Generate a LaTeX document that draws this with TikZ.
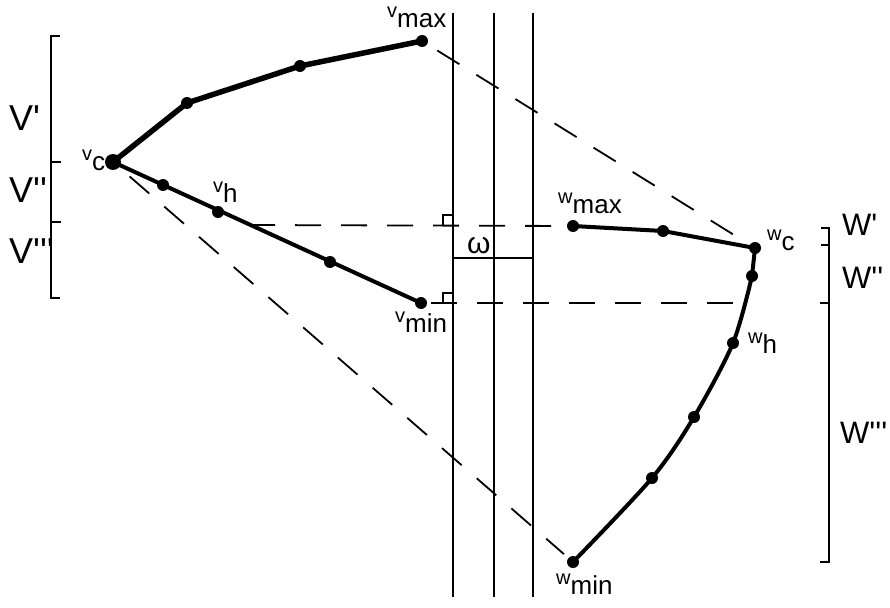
\documentclass[tikz,border=0pt]{standalone}
\usepackage{fontspec}
\setmainfont{Liberation Sans}
\usetikzlibrary{positioning}

\newcommand{\ptlab}[2]{{\fontsize{20}{20}\selectfont #1}\raisebox{-10pt}{\fontsize{26}{26}\selectfont #2}}
\newcommand{\qs}{\textquotesingle}

\begin{document}
\begin{tikzpicture}[x=1pt, y=-1pt,
  lbl/.style={anchor=base west, inner sep=0pt},
  seglbl/.style={anchor=base west, inner sep=0pt, font=\fontsize{36}{36}\selectfont},
  wlbl/.style={anchor=base west, inner sep=0pt, font=\fontsize{31}{31}\selectfont},
  branch/.style={line width=4.5pt, line cap=round, line join=round},
  thin/.style={line width=1.8pt},
  dashln/.style={line width=1.8pt, dash pattern=on 26pt off 20pt},
  dot/.style={radius=6}
]
  \useasboundingbox (0,0) rectangle (890,607);

  % points of the V side
  \coordinate (vc)   at (113,162);
  \coordinate (va1)  at (187,103);
  \coordinate (va2)  at (300,66);
  \coordinate (vmax) at (422,41);
  \coordinate (vb1)  at (163,185);
  \coordinate (vh)   at (218,212);
  \coordinate (vb2)  at (330,262);
  \coordinate (vmin) at (421,303);
  \coordinate (vcut) at (249,225);

  % points of the W side
  \coordinate (wmax) at (573,226);
  \coordinate (wa1)  at (663,231);
  \coordinate (wc)   at (755,248);
  \coordinate (wb1)  at (752,276);
  \coordinate (wh)   at (733,343);
  \coordinate (wb2)  at (694,417);
  \coordinate (wb3)  at (652,478);
  \coordinate (wmin) at (573,562);
  \coordinate (wcut) at (745,303);

  % the three vertical lines
  \foreach \x in {453,494,533}
    \draw[thin] (\x,13) -- (\x,597);
  \draw[thin] (453,258) -- (533,258);
  \node[lbl, font=\fontsize{30}{30}\selectfont] (omega) at (467,253) {ω};

  % right angle marks
  \draw[thin] (443,225) -- (443,215) -- (453,215);
  \draw[thin] (443,303) -- (443,293) -- (453,293);

  % dashed construction lines
  \draw[dashln] (vcut) -- (wmax);
  \draw[dashln, shorten <=10pt] (vmin) -- (wcut);
  \draw[dashln, shorten <=18pt, shorten >=18pt] (vmax) -- (wc);
  \draw[dashln, shorten <=22pt, shorten >=12pt] (vc) -- (wmin);

  % V profile
  \draw[branch, line width=5.5pt] (vc) -- (va1) -- (va2) -- (vmax);
  \draw[branch, line width=4pt] (vc) -- (vmin);
  \fill (vc) circle[radius=8];
  \foreach \p in {va1,va2,vmax,vb1,vh,vb2,vmin}
    \fill (\p) circle[dot];

  % W profile
  \draw[branch, line width=4pt] (wmax) -- (wa1) -- (wc) -- (wb1);
  \draw[branch, line width=4pt] plot[smooth, tension=0.5] coordinates {(wb1) (wh) (wb2) (wb3) (wmin)};
  \foreach \p in {wmax,wa1,wc,wb1,wh,wb2,wb3,wmin}
    \fill (\p) circle[dot];

  % point labels
  \node[lbl] (lvmax) at (387,18)  {\ptlab{v}{max}};
  \node[lbl] (lvmin) at (395,322) {\ptlab{v}{min}};
  \node[lbl] (lvc)   at (82,160)  {\ptlab{v}{c}};
  \node[lbl] (lvh)   at (213,192) {\ptlab{v}{h}};
  \node[lbl] (lwmax) at (558,203) {\ptlab{w}{max}};
  \node[lbl] (lwc)   at (767,240) {\ptlab{w}{c}};
  \node[lbl] (lwh)   at (748,343) {\ptlab{w}{h}};
  \node[lbl] (lwmin) at (556,584) {\ptlab{w}{min}};

  % left bracket
  \draw[thin] (60,36) -- (51,36) -- (51,298) -- (60,298);
  \draw[thin] (51,162) -- (61,162);
  \draw[thin] (51,222) -- (61,222);
  \node[seglbl] (v1) at (9,130) {V\qs};
  \node[seglbl] (v2) at (9,202) {V\qs\qs};
  \node[seglbl] (v3) at (9,263) {V\qs\qs\qs};

  % right bracket
  \draw[thin] (821,228) -- (829,228) -- (829,562) -- (820,562);
  \draw[thin] (829,245) -- (821,245);
  \draw[thin] (829,303) -- (820,303);
  \node[wlbl] (w1) at (842,235) {W\qs};
  \node[wlbl] (w2) at (842,288) {W\qs\qs};
  \node[wlbl] (w3) at (840,443) {W\qs\qs\qs};
\end{tikzpicture}
\end{document}
